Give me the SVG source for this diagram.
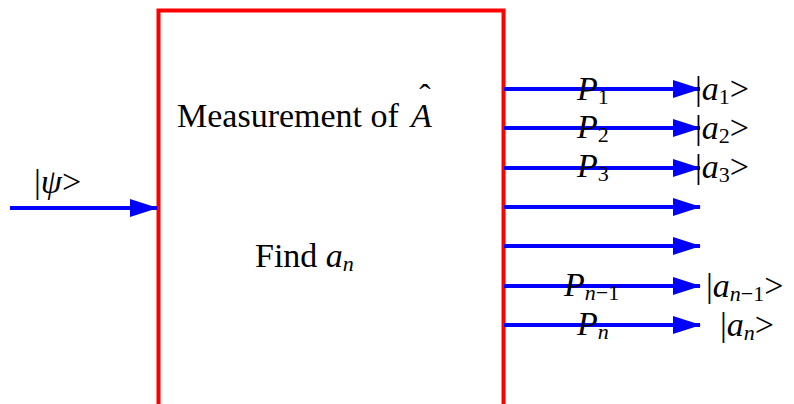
<svg xmlns="http://www.w3.org/2000/svg" width="794" height="404" viewBox="0 0 794 404">
<style>
text{font-family:"Liberation Serif","Times New Roman",serif;fill:#000;font-size:34px}
.i{font-style:italic}
.s{font-size:22px}
.w{stroke:#0000ff;stroke-width:4;fill:none}
</style>
<defs>
<marker id="ah" viewBox="0 0 28 18" refX="27" refY="9" markerWidth="28" markerHeight="18" markerUnits="userSpaceOnUse" orient="auto"><path d="M0,0L28,9L0,18z" fill="#0000ff"/></marker>
</defs>
<g id="box">
<rect x="158.5" y="10.5" width="345" height="400" fill="#fff" stroke="#ff0000" stroke-width="4"/>
<text x="177" y="127">Measurement of</text>
<text x="411" y="127" class="i">A</text>
<text x="425" y="108" text-anchor="middle">ˆ</text>
<text x="255" y="267">Find <tspan class="i">a</tspan><tspan class="i s" dy="4">n</tspan></text>
</g>
<g id="connectors">
<line class="w" x1="10" y1="208" x2="157" y2="208" marker-end="url(#ah)"/>
<line class="w" x1="504" y1="89" x2="700" y2="89" marker-end="url(#ah)"/>
<line class="w" x1="504" y1="128" x2="700" y2="128" marker-end="url(#ah)"/>
<line class="w" x1="504" y1="168" x2="700" y2="168" marker-end="url(#ah)"/>
<line class="w" x1="504" y1="207" x2="700" y2="207" marker-end="url(#ah)"/>
<line class="w" x1="504" y1="246" x2="700" y2="246" marker-end="url(#ah)"/>
<line class="w" x1="504" y1="286" x2="700" y2="286" marker-end="url(#ah)"/>
<line class="w" x1="504" y1="325" x2="700" y2="325" marker-end="url(#ah)"/>
</g>
<g id="labels">
<text x="34" y="193">|<tspan class="i">ψ</tspan>&gt;</text>
<text x="577" y="100" class="i">P<tspan class="s" dy="4" font-style="normal">1</tspan></text>
<text x="577" y="138" class="i">P<tspan class="s" dy="4" font-style="normal">2</tspan></text>
<text x="577" y="177" class="i">P<tspan class="s" dy="4" font-style="normal">3</tspan></text>
<text x="564" y="296" class="i">P<tspan class="s" dy="4">n</tspan><tspan class="s" font-style="normal">−1</tspan></text>
<text x="577" y="335" class="i">P<tspan class="s" dy="4">n</tspan></text>
<text x="695" y="100">|<tspan class="i">a</tspan><tspan class="s" dy="4">1</tspan><tspan dy="-4">&gt;</tspan></text>
<text x="695" y="139">|<tspan class="i">a</tspan><tspan class="s" dy="4">2</tspan><tspan dy="-4">&gt;</tspan></text>
<text x="695" y="178">|<tspan class="i">a</tspan><tspan class="s" dy="4">3</tspan><tspan dy="-4">&gt;</tspan></text>
<text x="706" y="297">|<tspan class="i">a</tspan><tspan class="s i" dy="4">n</tspan><tspan class="s">−1</tspan><tspan dy="-4">&gt;</tspan></text>
<text x="720" y="336">|<tspan class="i">a</tspan><tspan class="s i" dy="4">n</tspan><tspan dy="-4">&gt;</tspan></text>
</g>
</svg>
